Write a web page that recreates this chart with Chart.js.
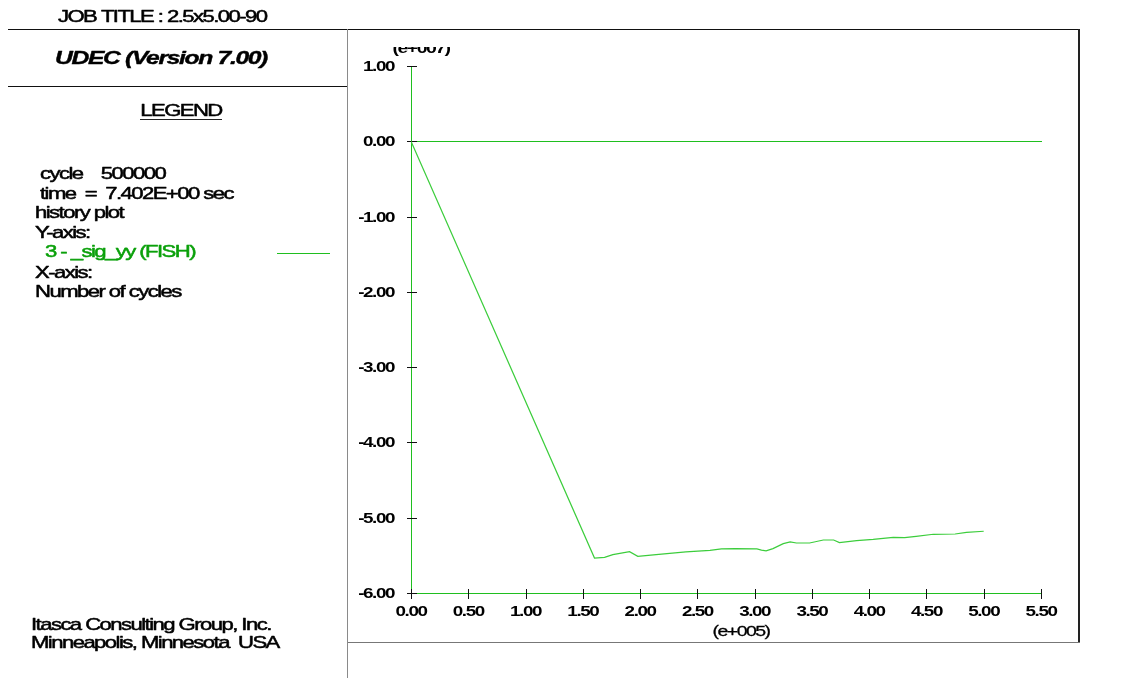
<!DOCTYPE html>
<html>
<head>
<meta charset="utf-8">
<script src="https://cdn.jsdelivr.net/npm/chart.js@4/dist/chart.umd.min.js"></script>
<style>
  html, body { margin: 0; padding: 0; background: #ffffff; }
  canvas { display: block; }
</style>
</head>
<body>
<canvas id="hist" width="1137" height="678"></canvas>
<script>
// Number of cycles (units of 1e5) and sig_yy history (units of 1e7)
const cycles = [0, 1.602, 1.69, 1.762, 1.908, 1.98, 2.14, 2.40, 2.61, 2.71, 2.83,
  3.02, 3.06, 3.10, 3.16, 3.25, 3.31, 3.365, 3.48, 3.60, 3.69, 3.74, 3.89,
  4.035, 4.21, 4.31, 4.41, 4.56, 4.75, 4.85, 5.00];
const sigYY = [0, -5.536, -5.527, -5.49, -5.451, -5.513, -5.49, -5.455, -5.433, -5.415, -5.41,
  -5.415, -5.43, -5.44, -5.41, -5.345, -5.32, -5.336, -5.336, -5.296, -5.296, -5.33, -5.305,
  -5.288, -5.26, -5.265, -5.248, -5.22, -5.216, -5.195, -5.18];

// Axis ticks
const xTickValues = [0, 0.5, 1, 1.5, 2, 2.5, 3, 3.5, 4, 4.5, 5, 5.5];
const xTickLabels = ['0.00', '0.50', '1.00', '1.50', '2.00', '2.50', '3.00', '3.50', '4.00', '4.50', '5.00', '5.50'];
const yTickValues = [1, 0, -1, -2, -3, -4, -5, -6];
const yTickLabels = ['1.00', '0.00', '-1.00', '-2.00', '-3.00', '-4.00', '-5.00', '-6.00'];
const xExponent = '(e+005)';
const yExponent = '(e+007)';

// Side panel text
const jobTitle = 'JOB TITLE : 2.5x5.00-90';
const programName = 'UDEC (Version 7.00)';
const legendHeading = 'LEGEND';
const infoLines = ['cycle    500000', 'time  =  7.402E+00 sec'];
const plotLines = ['history plot', 'Y-axis:'];
const seriesName = '3 - _sig_yy (FISH)';
const xAxisLines = ['X-axis:', 'Number of cycles'];
const footerLines = ['Itasca Consulting Group, Inc.', 'Minneapolis, Minnesota  USA'];

const AXIS_GREEN = '#1fbf1f';
const LINE_GREEN = 'rgb(60,205,60)';
const TEXT_GREEN = 'rgb(10,160,10)';
const FONT = '"Liberation Sans", Arial, sans-serif';

// Wide, tightly packed, slightly heavy lettering
function wideText(ctx, text, x, y, opts) {
  const o = Object.assign({ size: 17, weight: 'normal', style: 'normal', color: '#000',
    align: 'left', stretch: 1.3, spacing: -1.2, heavy: 0.5 }, opts || {});
  ctx.save();
  ctx.font = `${o.style} ${o.weight} ${o.size}px ${FONT}`;
  ctx.letterSpacing = o.spacing + 'px';
  ctx.fillStyle = o.color;
  ctx.strokeStyle = o.color;
  ctx.lineWidth = o.heavy;
  ctx.lineJoin = 'round';
  ctx.textBaseline = 'middle';
  ctx.textAlign = 'left';
  const w = ctx.measureText(text).width * o.stretch;
  let left = x;
  if (o.align === 'center') left = x - w / 2;
  else if (o.align === 'right') left = x - w;
  ctx.translate(left, y);
  ctx.scale(o.stretch, 1);
  ctx.fillText(text, 0, 0);
  if (o.heavy > 0) ctx.strokeText(text, 0, 0);
  ctx.restore();
  return { left, width: w };
}

// crisp one-pixel rules
function hRule(ctx, x1, x2, y, color, h) {
  ctx.fillStyle = color;
  ctx.fillRect(Math.round(x1), Math.round(y), Math.round(x2 - x1), h || 1);
}
function vRule(ctx, x, y1, y2, color, w) {
  ctx.fillStyle = color;
  ctx.fillRect(Math.round(x), Math.round(y1), w || 1, Math.round(y2 - y1));
}

const framePlugin = {
  id: 'udecFrame',
  beforeDatasetsDraw(chart) {
    const ctx = chart.ctx;
    const xs = chart.scales.x, ys = chart.scales.y;
    ctx.save();
    // page frame
    hRule(ctx, 8, 1080, 29, '#111');
    hRule(ctx, 8, 348, 86, '#111');
    vRule(ctx, 347, 29, 678, '#8a8a8a');
    vRule(ctx, 1078, 29, 643, '#222', 2);
    hRule(ctx, 348, 1080, 642, '#777');

    const x0 = Math.round(xs.getPixelForValue(0));
    const xEnd = xs.getPixelForValue(5.5);
    const yTop = ys.getPixelForValue(1);
    const yBot = Math.round(ys.getPixelForValue(-6));
    const yZero = Math.round(ys.getPixelForValue(0));

    // axes and zero line
    vRule(ctx, x0, yTop, yBot + 1, AXIS_GREEN);
    hRule(ctx, x0, xEnd + 1, yBot, AXIS_GREEN);
    hRule(ctx, x0, xEnd + 1, yZero, AXIS_GREEN);

    // tick marks
    yTickValues.forEach(v => {
      hRule(ctx, x0 - 4, x0 + 6, ys.getPixelForValue(v), '#111');
    });
    xTickValues.forEach(v => {
      vRule(ctx, xs.getPixelForValue(v), yBot - 4, yBot + 6, '#111');
    });
    ctx.restore();
  },
  afterDraw(chart) {
    const ctx = chart.ctx;
    const xs = chart.scales.x, ys = chart.scales.y;

    // tick labels
    const tick = { size: 14.5, weight: 'bold', stretch: 1.3, spacing: -1.1, heavy: 0 };
    yTickValues.forEach((v, i) => {
      wideText(ctx, yTickLabels[i], 394, ys.getPixelForValue(v) + 1, Object.assign({ align: 'right' }, tick));
    });
    xTickValues.forEach((v, i) => {
      wideText(ctx, xTickLabels[i], xs.getPixelForValue(v), 612, Object.assign({ align: 'center' }, tick));
    });
    wideText(ctx, xExponent, 741, 632, { size: 15, align: 'center', heavy: 0.3 });

    // exponent above the y axis, cut by the top of its box
    ctx.save();
    ctx.beginPath();
    ctx.rect(360, 47, 120, 16);
    ctx.clip();
    wideText(ctx, yExponent, 421, 49, { size: 15, weight: 'bold', align: 'center', heavy: 0 });
    ctx.restore();

    // side panel
    wideText(ctx, jobTitle, 58, 17);
    wideText(ctx, programName, 55, 59, { size: 19, weight: 'bold', style: 'italic', spacing: -1.05, heavy: 0.4 });
    const lg = wideText(ctx, legendHeading, 181, 111, { align: 'center' });
    hRule(ctx, lg.left, lg.left + lg.width, 119, '#222');

    wideText(ctx, infoLines[0], 40, 174);
    wideText(ctx, infoLines[1], 40, 194);
    wideText(ctx, plotLines[0], 35, 213);
    wideText(ctx, plotLines[1], 35, 233);
    wideText(ctx, seriesName, 45, 252, { color: TEXT_GREEN });
    hRule(ctx, 277, 330, 253, AXIS_GREEN);
    wideText(ctx, xAxisLines[0], 35, 273);
    wideText(ctx, xAxisLines[1], 35, 292);

    wideText(ctx, footerLines[0], 31, 625);
    wideText(ctx, footerLines[1], 31, 643);
  }
};

const points = cycles.map((c, i) => ({ x: c, y: sigYY[i] }));

new Chart(document.getElementById('hist'), {
  type: 'line',
  data: {
    datasets: [{
      label: seriesName,
      data: points,
      borderColor: LINE_GREEN,
      borderWidth: 1.2,
      pointRadius: 0,
      tension: 0,
      fill: false
    }]
  },
  options: {
    responsive: false,
    animation: false,
    events: [],
    layout: { padding: { left: 411, right: 96, top: 66, bottom: 85 } },
    scales: {
      x: { type: 'linear', min: 0, max: 5.5, display: false },
      y: { type: 'linear', min: -6, max: 1, display: false }
    },
    plugins: { legend: { display: false }, tooltip: { enabled: false } }
  },
  plugins: [framePlugin]
});
</script>
</body>
</html>
